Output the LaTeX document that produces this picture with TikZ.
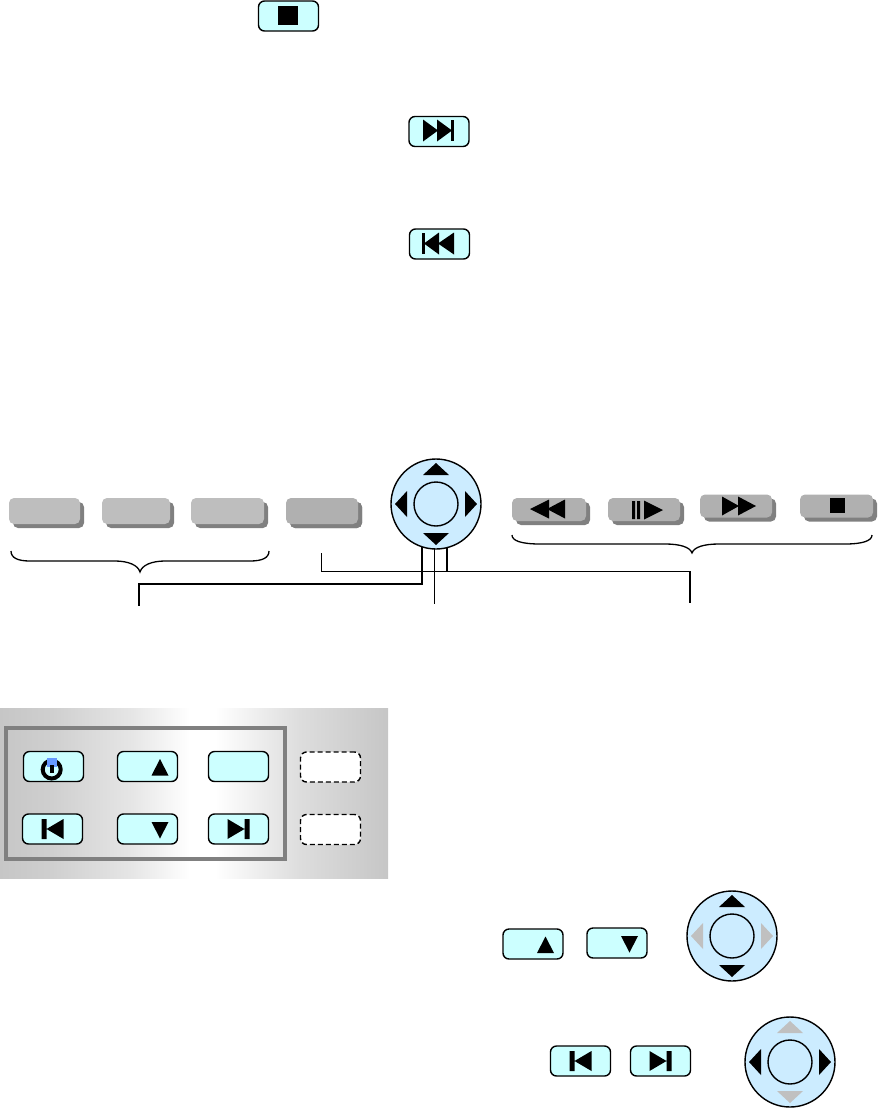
\documentclass[tikz,border=0pt]{standalone}
\usepackage{tikz}
\usetikzlibrary{shadows}

\definecolor{keycyan}{HTML}{CCFFFF}
\definecolor{padblue}{HTML}{CCECFF}
\definecolor{keygrey}{HTML}{BEBEBE}
\definecolor{keydark}{HTML}{B0B0B0}
\definecolor{keyshade}{HTML}{808080}
\definecolor{arrowoff}{HTML}{C0C0C0}
\definecolor{panelgrey}{HTML}{C6C6C6}
\definecolor{powerblue}{HTML}{6699FF}

\pgfdeclarehorizontalshading{panelshade}{100bp}{
  color(0bp)=(panelgrey); color(25bp)=(panelgrey); color(31.4bp)=(panelgrey!85!white);
  color(41.8bp)=(panelgrey!45!white); color(49.5bp)=(white); color(52.7bp)=(white);
  color(63.7bp)=(panelgrey!60!white); color(75bp)=(panelgrey); color(100bp)=(panelgrey)}

\tikzset{
  key/.style={rectangle, draw, line width=1.4pt, rounded corners=6pt, fill=keycyan,
    minimum width=60pt, minimum height=30pt, inner sep=0pt},
  ghostkey/.style={key, dash pattern=on 5pt off 3pt, fill=white},
  softkey/.style={rectangle, rounded corners=5pt, fill=keygrey, inner sep=0pt,
    drop shadow={shadow xshift=4pt, shadow yshift=-4pt, fill=keyshade, opacity=1}},
  softdark/.style={softkey, fill=keydark},
  wire/.style={line width=1.2pt},
}

% round pad with its four arrows
\newcommand{\navpad}[5]{
  \node[circle, draw, line width=1.4pt, fill=padblue, minimum size=90pt, inner sep=0pt] (#1) at (#2, #3) {};
  \node[circle, draw, line width=1.4pt, minimum size=44pt, inner sep=0pt] (#1in) at (#1) {};
  \begin{scope}[shift={(#1)}]
    \fill[#4] (0, -41) -- (13, -29) -- (-13, -29) -- cycle;
    \fill[#4] (0, 41) -- (13, 29) -- (-13, 29) -- cycle;
    \fill[#5] (-41, 0) -- (-29, -13) -- (-29, 13) -- cycle;
    \fill[#5] (41, 0) -- (29, -13) -- (29, 13) -- cycle;
  \end{scope}
}
\newcommand{\upmark}[1]{\fill[shift={(#1)}] (12.5, -7.5) -- (21, 9) -- (4, 9) -- cycle;}
\newcommand{\downmark}[1]{\fill[shift={(#1)}] (12.5, 9.5) -- (21, -7) -- (4, -7) -- cycle;}
\newcommand{\prevmark}[1]{\fill[shift={(#1)}] (-11, -10) rectangle (-6, 10) (-6, 0) -- (11, -10) -- (11, 10) -- cycle;}
\newcommand{\nextmark}[1]{\fill[shift={(#1)}] (11, -10) rectangle (6, 10) (6, 0) -- (-11, -10) -- (-11, 10) -- cycle;}

\begin{document}
\begin{tikzpicture}[x=1pt, y=-1pt]
    \useasboundingbox (0, 0) rectangle (878, 1109);

    \node[key] (stopkey) at (288.5, 16) {};
    \node[key] (skipnext) at (439, 131.5) {};
    \node[key] (skipprev) at (439.5, 244) {};
    \fill (278, 6) rectangle (298, 25);
    \fill (423, 119.5) -- (438, 130.5) -- (423, 141.5) -- cycle;
    \fill (437, 119.5) -- (452, 130.5) -- (437, 141.5) -- cycle;
    \fill (451, 120) rectangle (454, 141);
    \fill (422, 233) rectangle (425, 254);
    \fill (439, 232.5) -- (424, 243.5) -- (439, 254.5) -- cycle;
    \fill (454, 232.5) -- (438, 243.5) -- (454, 254.5) -- cycle;

    \begin{scope}[every node/.style={softkey, minimum height=26pt}]
      \node[minimum width=71pt] (soft1) at (44.5, 511) {};
      \node[minimum width=68pt] (soft2) at (136, 511) {};
      \node[minimum width=73pt] (soft3) at (227.5, 511) {};
      \node[softdark, minimum width=72pt] (soft4) at (322, 511) {};
    \end{scope}
    \begin{scope}[every node/.style={softdark, minimum height=23pt}]
      \node[minimum width=74pt] (rewkey) at (549, 509.5) {};
      \node[minimum width=72pt] (stepkey) at (644, 509.5) {};
      \node[minimum width=72pt] (ffwkey) at (736, 506) {};
      \node[minimum width=73pt] (haltkey) at (836.5, 506) {};
    \end{scope}
    \fill (530, 509) -- (549, 499.5) -- (549, 518.5) -- cycle;
    \fill (547, 509) -- (565, 499.5) -- (565, 518.5) -- cycle;
    \fill (632, 501) rectangle (635, 519) (637, 501) rectangle (640, 519);
    \fill (644, 500.5) -- (663, 510) -- (644, 519.5) -- cycle;
    \fill (722, 496.5) -- (739, 506) -- (722, 515.5) -- cycle;
    \fill (738, 496.5) -- (756, 506) -- (738, 515.5) -- cycle;
    \fill (830, 498) rectangle (845, 513);

    % pad and its wires
    \coordinate (softend) at (321.5, 553);
    \coordinate (leftend) at (139, 606);
    \coordinate (midend) at (434.5, 604);
    \coordinate (rightend) at (690, 603);
    \coordinate (padleft) at (422, 547);
    \coordinate (padmid) at (434.5, 549);
    \coordinate (padright) at (447, 547);
    \draw[wire] (softend) |- (padright |- 0, 571.5);
    \draw[wire] (padleft) |- (leftend |- 0, 584) -- (leftend);
    \draw[wire] (padmid) -- (midend);
    \draw[wire] (padright) |- (rightend |- 0, 571.5) -- (rightend);
    \navpad{toppad}{436}{504}{black}{black}

    \draw[line width=1.3pt] (11, 551) .. controls (11, 558) and (18, 561) .. (30, 561) -- (115, 561)
      .. controls (128, 561) and (138, 565) .. (140, 572) .. controls (142, 565) and (152, 561) .. (165, 561)
      -- (250, 561) .. controls (262, 561) and (269, 558) .. (269, 551);
    \draw[line width=1.3pt] (512, 535) .. controls (512, 541) and (522, 544) .. (540, 544) -- (665, 544)
      .. controls (680, 544) and (690, 547) .. (692, 553) .. controls (694, 547) and (704, 544) .. (719, 544)
      -- (845, 544) .. controls (862, 544) and (872, 541) .. (872, 535);

    % front panel
    \shade[shading=panelshade] (0, 708) rectangle (388, 878);
    \draw[line width=4pt, color=keyshade] (6, 728) rectangle (285, 859);

    \node[key] (powerkey) at (53.5, 766.5) {};
    \node[key] (upkey) at (147.5, 766.5) {};
    \node[key] (blankkey) at (238.5, 766.5) {};
    \node[ghostkey] (ghost1) at (330.5, 767) {};
    \node[key] (prevkey) at (52.5, 829) {};
    \node[key] (downkey) at (147.5, 829) {};
    \node[key] (nextkey) at (238.5, 829) {};
    \node[ghostkey] (ghost2) at (330.5, 829.5) {};
    \draw[line width=4pt] (51.7, 769.5) circle (9);
    \fill[powerblue] (47.3, 757.5) rectangle (56.7, 767);
    \fill[keycyan] (47.3, 767) rectangle (50.5, 770) (54.5, 767) rectangle (56.7, 770);
    \fill (50.2, 765) rectangle (54.4, 773);
    \upmark{upkey}
    \downmark{downkey}
    \prevmark{prevkey}
    \nextmark{nextkey}

    % lower keys with their pads
    \node[key] (upkey2) at (533, 944) {};
    \node[key] (downkey2) at (617, 943) {};
    \node[key] (prevkey2) at (580.5, 1061) {};
    \node[key] (nextkey2) at (660.5, 1061) {};
    \upmark{upkey2}
    \downmark{downkey2}
    \prevmark{prevkey2}
    \nextmark{nextkey2}
    \navpad{vertpad}{732}{936}{black}{arrowoff}
    \navpad{horzpad}{790}{1062}{arrowoff}{black}
  \end{tikzpicture}
\end{document}
